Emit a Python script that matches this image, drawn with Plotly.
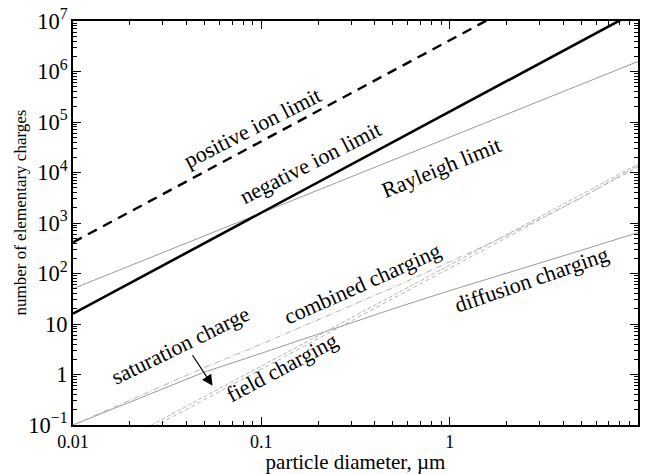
import plotly.graph_objects as go

# particle diameter grid, micrometres
diam = [0.01, 0.02, 0.05, 0.1, 0.2, 0.5, 1, 2, 5, 10]

# limits on the number of elementary charges
positive_ion = [414, 1656, 10350, 41400, 165600, 1035000, 4140000, 16560000, 103500000, 414000000]
negative_ion = [16, 64, 400, 1600, 6400, 40000, 160000, 640000, 4000000, 16000000]
rayleigh = [50, 141, 559, 1580, 4470, 17700, 50000, 141000, 559000, 1580000]

# charging mechanisms
diffusion = [0.1, 0.28, 1.12, 2.63, 6.3, 20, 45.7, 100, 288, 646]
combined = [0.1, 0.31, 1.38, 4.0, 12, 52.5, 170, 562, 3160, 13800]
sat_diam = [0.02, 0.05, 0.1, 0.2, 0.5, 1, 2, 5, 10]
saturation = [0.0587, 0.366, 1.47, 5.86, 36.6, 146.6, 586, 3664, 14650]
field = [0.051, 0.32, 1.28, 5.1, 32, 128, 513, 3200, 12800]

GREY = "#9a9a9a"
LIGHT = "#b4b4b4"
SERIF = "'Liberation Serif', 'Times New Roman', Times, serif"

fig = go.Figure()

def add(x, y, color, width, dash):
    fig.add_trace(go.Scatter(x=x, y=y, mode="lines",
                             line=dict(color=color, width=width, dash=dash),
                             hoverinfo="skip", showlegend=False))

add(diam, rayleigh, GREY, 1, "solid")
add(diam, diffusion, GREY, 1, "solid")
add(diam, combined, LIGHT, 1, "6px,2px,1px,2px")
add(sat_diam, saturation, LIGHT, 1, "4px,2px")
add(sat_diam, field, LIGHT, 1, "4px,3px")
add(diam, positive_ion, "black", 2.4, "10px,7px")
add(diam, negative_ion, "black", 2.6, "solid")

labels = [
    # text, log10(x), log10(y), angle
    ("positive ion limit", -1.047, 4.90, -27),
    ("negative ion limit", -0.737, 4.19, -27),
    ("Rayleigh limit", -0.044, 4.10, -22),
    ("combined charging", -0.462, 1.80, -24),
    ("diffusion charging", 0.435, 1.88, -19),
    ("saturation charge", -1.434, 0.58, -26),
    ("field charging", -0.891, 0.13, -28),
]
for text, lx, ly, ang in labels:
    fig.add_annotation(x=lx, y=ly, xref="x", yref="y", text=text,
                       showarrow=False, textangle=ang,
                       font=dict(family=SERIF, size=22, color="black"))

# arrow from the saturation label down to its curve
fig.add_annotation(x=-1.259, y=-0.223, xref="x", yref="y", text="",
                   showarrow=True, ax=-21, ay=-32, arrowhead=2,
                   arrowsize=1.8, arrowwidth=1.2, arrowcolor="black")

# vertical axis title, set close to the tick labels
fig.add_annotation(x=0, y=0.5, xref="paper", yref="paper",
                   text="number of elementary charges", showarrow=False,
                   textangle=-90, xshift=-65, yshift=10,
                   font=dict(family=SERIF, size=17, color="black"))

axis_common = dict(
    type="log", dtick=1, ticks="inside", ticklen=8, tickwidth=1,
    tickcolor="black", showline=True, linecolor="black", linewidth=1.6,
    mirror="allticks", showgrid=False, zeroline=False,
    minor=dict(ticks="inside", ticklen=4, tickcolor="black", dtick="D1",
               showgrid=False),
    tickfont=dict(family=SERIF, size=18, color="black"),
)

fig.update_xaxes(**axis_common, range=[-2, 1],
                 title=dict(text="particle diameter, \u00b5m", standoff=2,
                            font=dict(family=SERIF, size=21, color="black")))
fig.update_yaxes(**axis_common, range=[-1, 7], exponentformat="power")

fig.update_layout(
    width=645, height=474,
    margin=dict(l=73, r=5, t=21, b=48),
    paper_bgcolor="white", plot_bgcolor="white",
    font=dict(family=SERIF, color="black"),
)

fig.write_html("out.html")
